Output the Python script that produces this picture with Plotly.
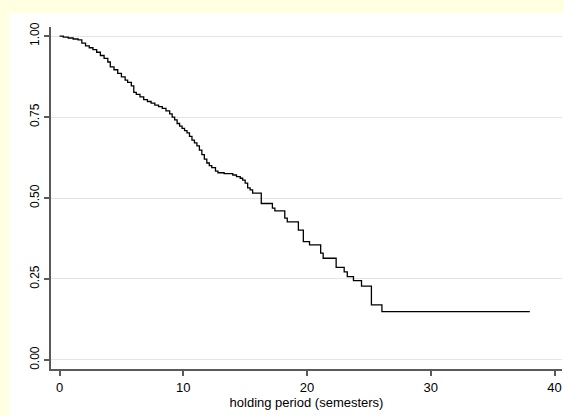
import plotly.graph_objects as go

# Kaplan-Meier style survival estimate
event_times = [0.3, 0.7, 1.1, 1.5, 1.8, 2.1, 2.4, 2.7, 3.0, 3.3, 3.6, 3.9, 4.1, 4.4, 4.7,
               5.0, 5.3, 5.5, 5.8, 6.0, 6.2, 6.5, 6.8, 7.1, 7.4, 7.7, 8.0, 8.3, 8.6, 8.9,
               9.1, 9.3, 9.5, 9.7, 9.9, 10.1, 10.3, 10.5, 10.7, 10.9, 11.1, 11.3, 11.5,
               11.7, 11.9, 12.1, 12.3, 12.6, 12.8, 13.3, 14.0, 14.3, 14.6, 14.8, 15.0,
               15.2, 15.4, 15.6, 16.3, 17.2, 17.4, 18.2, 18.4, 19.3, 19.7, 20.2, 21.1,
               21.3, 22.35, 23.0, 23.25, 23.75, 24.4, 25.2, 26.05]
survival = [0.997, 0.994, 0.991, 0.988, 0.978, 0.970, 0.964, 0.958, 0.950, 0.940, 0.931,
            0.920, 0.905, 0.896, 0.885, 0.874, 0.864, 0.857, 0.846, 0.826, 0.820, 0.812,
            0.804, 0.798, 0.793, 0.787, 0.782, 0.777, 0.769, 0.760, 0.750, 0.741, 0.730,
            0.722, 0.715, 0.708, 0.701, 0.690, 0.679, 0.670, 0.661, 0.648, 0.634, 0.620,
            0.608, 0.600, 0.594, 0.583, 0.578, 0.575, 0.571, 0.566, 0.561, 0.555, 0.546,
            0.531, 0.525, 0.515, 0.483, 0.469, 0.460, 0.438, 0.426, 0.401, 0.365, 0.355,
            0.330, 0.314, 0.286, 0.272, 0.257, 0.245, 0.228, 0.170, 0.149]
start_time = 0.0
start_surv = 1.0
last_time = 38.0

x_ticks = [0, 10, 20, 30, 40]
y_ticks = [0.0, 0.25, 0.5, 0.75, 1.0]
x_title = "holding period (semesters)"

xs = [start_time] + event_times + [last_time]
ys = [start_surv] + survival + [survival[-1]]

fig = go.Figure()
fig.add_trace(go.Scatter(x=xs, y=ys, mode="lines", line=dict(shape="hv", color="#000000", width=1.3),
                         hoverinfo="skip", showlegend=False))

font = dict(family="Liberation Sans, Arial, sans-serif", size=12, color="#000000")

fig.update_layout(
    width=564, height=416,
    margin=dict(l=51, r=2, t=27, b=47),
    paper_bgcolor="#FFFFE1",
    plot_bgcolor="#FFFFFF",
    font=font,
    showlegend=False,
    shapes=[dict(type="rect", xref="paper", yref="paper", x0=-0.0822, x1=1.2, y0=-0.3, y1=1.0409,
                 fillcolor="#FFFFFF", line=dict(width=0), layer="below")],
)
fig.update_xaxes(
    range=[-0.69, 40.6], tickvals=x_ticks, ticktext=[str(v) for v in x_ticks],
    showline=True, linecolor="#5A5A5A", linewidth=2, ticks="outside", ticklen=5,
    tickcolor="#5A5A5A", tickwidth=1.5, showgrid=False, zeroline=False,
    title=dict(text=x_title, font=dict(size=13), standoff=0), tickfont=dict(size=13),
)
fig.update_yaxes(
    range=[-0.028, 1.028], tickvals=y_ticks, ticktext=["%.2f" % v for v in y_ticks],
    showline=True, linecolor="#5A5A5A", linewidth=2, ticks="outside", ticklen=5,
    tickcolor="#5A5A5A", tickwidth=1.5, showgrid=True, gridcolor="#E4E4E4", gridwidth=1,
    zeroline=False, tickangle=-90, tickfont=dict(size=12),
)

fig.write_html("out.html", config={"displayModeBar": False},
               post_script="document.body.style.margin='0px';document.body.style.overflow='hidden';")
